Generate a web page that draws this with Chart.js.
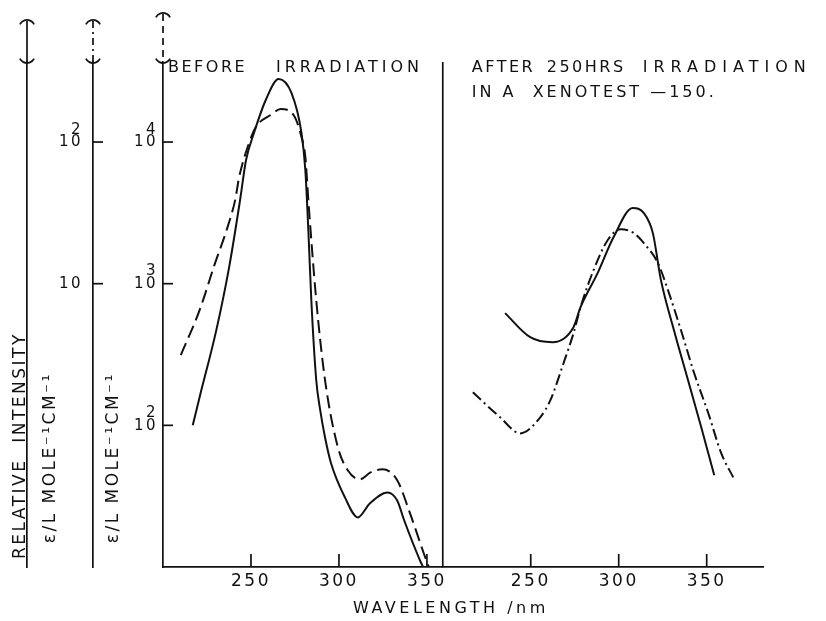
<!DOCTYPE html>
<html lang="en">
<head>
<meta charset="UTF-8">
<title>Absorption spectra before and after irradiation</title>
<script src="https://cdn.jsdelivr.net/npm/chart.js"></script>
<style>
  body { margin: 0; background: #fff; }
</style>
</head>
<body>
<canvas id="spectrumChart" width="826" height="621"></canvas>
<script>
const INK = '#111';
const FONT = '"DejaVu Sans", sans-serif';

// left panel: before irradiation (wavelength nm, epsilon)
const beforeSolidNm  = [216.9, 220.8, 230.3, 237.6, 243.8, 247.2, 251.7, 258.4, 265.7, 273.0, 278.7, 280.9, 282.6, 284.3, 287.1, 289.3, 292.1, 295.5, 303.4, 310.7, 317.4, 327.5, 333.1, 337.1, 346.1, 347.8];
const beforeSolidEps = [100, 158, 470, 1310, 3890, 7460, 11580, 19800, 27860, 22200, 11580, 6340, 2390, 764, 208, 129, 82, 54, 31, 22.4, 28, 33.6, 29.5, 21.3, 11.1, 10];
const beforeDashNm   = [210.1, 220.8, 229.2, 236.5, 241.0, 243.3, 248.9, 252.8, 261.2, 266.9, 274.2, 278.7, 280.9, 282.6, 287.1, 292.1, 299.4, 305.1, 311.8, 318.0, 324.7, 333.1, 340.4, 348.3, 351.1];
const beforeDashEps  = [313, 650, 1352, 2467, 3890, 5665, 9840, 12760, 15520, 17100, 15520, 10840, 7830, 3890, 764, 208, 70, 48, 41.5, 46.6, 48.9, 41, 23.9, 12.4, 10];

// right panel: after 250 hrs irradiation
const afterSolidNm    = [235.4, 249.7, 262.3, 274.3, 278.3, 288.0, 297.1, 308.0, 314.3, 319.4, 324.0, 331.4, 339.4, 346.9, 354.3];
const afterSolidEps   = [620, 419, 386, 493, 682, 1186, 2134, 3420, 3150, 2275, 1059, 469, 208, 96.8, 44.4];
const afterDashDotNm  = [217.1, 232.6, 244.0, 255.4, 261.1, 268.6, 274.3, 278.3, 285.7, 293.7, 301.1, 308.6, 314.3, 322.3, 328.0, 335.4, 342.9, 350.9, 358.3, 365.1];
const afterDashDotEps = [171, 114, 87.7, 114, 150, 274, 447, 682, 1245, 2028, 2427, 2275, 1932, 1396, 900, 469, 233, 122, 63.4, 42.9];

const wavelengthTicks = [250, 300, 350];
const epsTicks = [100, 1000, 10000];
const epsTickLabels = [['2', '10'], ['3', '10'], ['4', '10']];
const intensityTicks = [10, 100];
const intensityTickLabels = [['', '10'], ['2', '10']];

function points(xs, ys) {
  return xs.map((x, i) => ({x: x, y: ys[i]}));
}

function curve(xs, ys, xAxisID, dash) {
  return {
    data: points(xs, ys),
    xAxisID: xAxisID,
    yAxisID: 'y',
    borderColor: INK,
    borderWidth: 2,
    borderDash: dash,
    pointRadius: 0,
    fill: false,
    cubicInterpolationMode: 'monotone'
  };
}

function setTicks(values) {
  return scale => { scale.ticks = values.map(v => ({value: v})); };
}

function drawCap(ctx, x, top, bottom, dash) {
  ctx.setLineDash([]);
  ctx.beginPath();
  ctx.arc(x, top + 7, 8, Math.PI * 1.15, Math.PI * 1.85);
  ctx.stroke();
  ctx.beginPath();
  ctx.arc(x, bottom - 7, 8, Math.PI * 0.15, Math.PI * 0.85);
  ctx.stroke();
  ctx.setLineDash(dash);
  ctx.beginPath();
  ctx.moveTo(x, top);
  ctx.lineTo(x, bottom);
  ctx.stroke();
  ctx.setLineDash([]);
}

function spacedText(ctx, text, x, y, spacing) {
  ctx.letterSpacing = spacing + 'px';
  ctx.fillText(text, x, y);
}

const decorations = {
  id: 'decorations',
  beforeUpdate(chart) {
    chart.ctx.letterSpacing = '2.5px';
  },
  afterDraw(chart) {
    const {ctx, chartArea, scales} = chart;
    ctx.save();
    ctx.strokeStyle = INK;
    ctx.fillStyle = INK;
    ctx.lineWidth = 1.7;

    // ticks point into the plot
    ['xL', 'xR'].forEach(id => {
      const s = scales[id];
      s.ticks.forEach(t => {
        const px = s.getPixelForValue(t.value);
        ctx.beginPath();
        ctx.moveTo(px, s.top);
        ctx.lineTo(px, s.top - 13);
        ctx.stroke();
      });
    });
    ['y', 'y2'].forEach(id => {
      const s = scales[id];
      s.ticks.forEach(t => {
        const py = s.getPixelForValue(t.value);
        ctx.beginPath();
        ctx.moveTo(s.right, py);
        ctx.lineTo(s.right + 10, py);
        ctx.stroke();
      });
    });

    // panel divider
    const xDiv = scales.xL.right;
    ctx.beginPath();
    ctx.moveTo(xDiv, chartArea.top);
    ctx.lineTo(xDiv, chartArea.bottom);
    ctx.stroke();

    // line-style keys above each axis
    drawCap(ctx, scales.y1.right, 21, chartArea.top, []);
    drawCap(ctx, scales.y2.right, 21, chartArea.top, [7, 4, 2, 4]);
    drawCap(ctx, scales.y.right, 14, chartArea.top, [7, 5]);

    ctx.font = '16px ' + FONT;
    ctx.textBaseline = 'middle';
    ctx.textAlign = 'left';
    spacedText(ctx, 'BEFORE', chartArea.left + 5, 68, 2.5);
    spacedText(ctx, 'IRRADIATION', chartArea.left + 113, 68, 4);
    spacedText(ctx, 'AFTER', xDiv + 29, 68, 2.5);
    spacedText(ctx, '250HRS', xDiv + 104, 68, 2.5);
    spacedText(ctx, 'IRRADIATION', xDiv + 200, 68, 6);
    spacedText(ctx, 'IN A  XENOTEST —150.', xDiv + 29, 93, 3);
    spacedText(ctx, 'WAVELENGTH /nm', chartArea.left + 190, 609, 3.5);
    ctx.restore();
  }
};

const xCommon = {
  type: 'linear',
  position: 'bottom',
  stack: 'wave',
  grid: {display: false, drawTicks: false},
  border: {display: true, color: INK, width: 1.7},
  ticks: {color: INK, font: {size: 17}, padding: 4, autoSkip: false, maxRotation: 0},
  afterBuildTicks: setTicks(wavelengthTicks),
  afterFit: s => { s.height = 54; }
};

new Chart(document.getElementById('spectrumChart'), {
  type: 'line',
  data: {
    datasets: [
      curve(beforeSolidNm, beforeSolidEps, 'xL', []),
      curve(beforeDashNm, beforeDashEps, 'xL', [13, 6]),
      curve(afterSolidNm, afterSolidEps, 'xR', []),
      curve(afterDashDotNm, afterDashDotEps, 'xR', [11, 4, 2, 4])
    ]
  },
  options: {
    responsive: false,
    animation: false,
    layout: {padding: {top: 62, right: 63, bottom: 0, left: 0}},
    font: {family: FONT},
    plugins: {legend: {display: false}, tooltip: {enabled: false}},
    scales: {
      xL: Object.assign({}, xCommon, {min: 200, max: 359, stackWeight: 159}),
      xR: Object.assign({}, xCommon, {min: 200, max: 382, stackWeight: 182}),
      y: {
        type: 'logarithmic',
        position: 'left',
        weight: 0,
        min: 10,
        max: Math.pow(10, 4.565),
        grid: {display: false, drawTicks: false},
        border: {display: true, color: INK, width: 1.7},
        ticks: {color: INK, font: {size: 15, lineHeight: 0.85}, padding: 5, labelOffset: -6,
                autoSkip: false,
                callback: (v) => epsTickLabels[epsTicks.indexOf(v)] || ''},
        afterBuildTicks: setTicks(epsTicks),
        title: {display: true, text: '   ε/L MOLE⁻¹CM⁻¹', align: 'start', color: INK,
                font: {size: 17}, padding: {top: 10, bottom: 0}},
        afterFit: s => { s.width = 70; }
      },
      y2: {
        type: 'logarithmic',
        position: 'left',
        weight: 1,
        min: 0.1,
        max: Math.pow(10, 2.565),
        grid: {display: false, drawTicks: false},
        border: {display: true, color: INK, width: 1.7},
        ticks: {color: INK, font: {size: 15, lineHeight: 0.85}, padding: 10, labelOffset: -6,
                autoSkip: false,
                callback: (v) => intensityTickLabels[intensityTicks.indexOf(v)] || ''},
        afterBuildTicks: setTicks(intensityTicks),
        title: {display: true, text: '   ε/L MOLE⁻¹CM⁻¹', align: 'start', color: INK,
                font: {size: 17}, padding: {top: 13, bottom: 0}},
        afterFit: s => { s.width = 66; }
      },
      y1: {
        type: 'linear',
        position: 'left',
        weight: 2,
        min: 0,
        max: 1,
        grid: {display: false, drawTicks: false},
        border: {display: true, color: INK, width: 1.7},
        ticks: {display: false},
        title: {display: true, text: ' RELATIVE  INTENSITY', align: 'start', color: INK,
                font: {size: 17}, padding: {top: 10, bottom: 0}},
        afterFit: s => { s.width = 27; }
      }
    }
  },
  plugins: [decorations]
});
</script>
</body>
</html>
